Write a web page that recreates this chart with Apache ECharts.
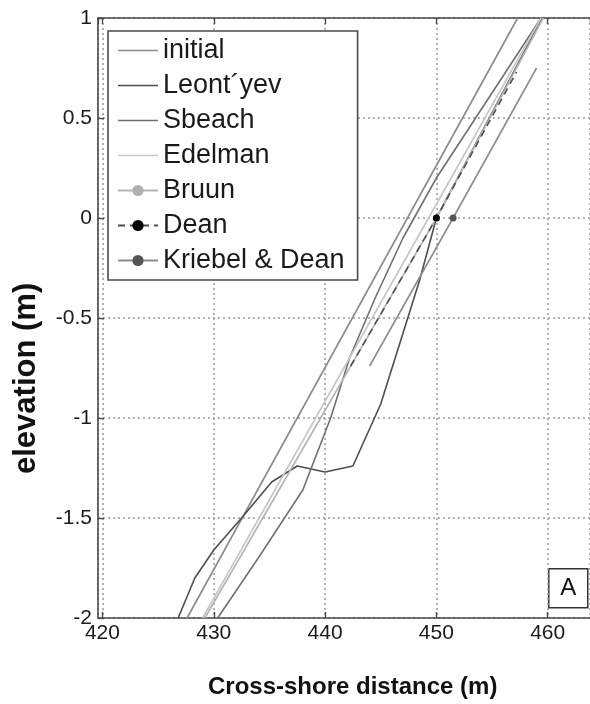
<!DOCTYPE html>
<html><head><meta charset="utf-8">
<script src="https://cdn.jsdelivr.net/npm/echarts@6/dist/echarts.min.js"></script>
<style>html,body{margin:0;padding:0;background:#fff}#c{width:590px;height:704px}</style>
</head><body><div id="c"></div>
<script>
// ---- data (x = cross-shore distance m, y = elevation m) ----
const xTicks = [420, 430, 440, 450, 460];
const yTicks = [-2, -1.5, -1, -0.5, 0, 0.5, 1];
const initial = [[427.6,-2],[457.3,1]];
const leontyev = [[426.8,-2],[428.3,-1.8],[430.0,-1.66],[432.5,-1.5],[434.0,-1.4],[435.2,-1.32],[437.5,-1.24],[440.0,-1.27],[442.5,-1.24],[445.0,-0.93],[448.5,-0.31],[450.0,0],[459.5,1]];
const sbeach = [[430.35,-2],[434.0,-1.7],[438.0,-1.36],[440.5,-1.0],[442.2,-0.7],[444.5,-0.4],[447.0,-0.1],[450.0,0.2],[459.4,1]];
const edelman = [[429.0,-2],[449.3,0],[459.4,1]];
const bruun = [[429.2,-2],[450.0,0],[459.6,1]];
const dean = [[442.3,-0.74],[450.0,0],[457.2,0.73]];
const kriebelDean = [[444.0,-0.74],[451.5,0],[459.0,0.75]];
const markerIndex = {Bruun: 1, Dean: 1, 'Kriebel & Dean': 1};
const legendNames = ['initial', 'Leont\u00b4yev', 'Sbeach', 'Edelman', 'Bruun', 'Dean', 'Kriebel & Dean'];

function withMarker(pts, idx) {
  return pts.map((p, i) => i === idx ? {value: p} : {value: p, symbol: 'none'});
}
function plain(pts){ return pts.map(p => ({value: p, symbol: 'none'})); }

const FONT = '"Liberation Sans", Arial, sans-serif';
const chart = echarts.init(document.getElementById('c'), null, {renderer: 'canvas'});

function lineSeries(name, pts, color, opts) {
  opts = opts || {};
  return {
    name, type: 'line', xAxisIndex: 0, yAxisIndex: 0,
    data: opts.marker != null ? withMarker(pts, opts.marker) : plain(pts),
    symbol: opts.marker != null ? 'circle' : 'none',
    symbolSize: 7,
    showAllSymbol: true,
    lineStyle: {color, width: opts.width || 1.6, type: opts.dash ? [7, 5] : 'solid'},
    itemStyle: {color: opts.markerColor || color, borderWidth: 0},
    z: opts.z || 2,
    silent: true,
    clip: true
  };
}
const seriesList = [
  lineSeries('initial', initial, '#8a8a8a'),
  lineSeries('Leont\u00b4yev', leontyev, '#4e4e4e'),
  lineSeries('Sbeach', sbeach, '#707070'),
  lineSeries('Edelman', edelman, '#c6c6c6'),
  lineSeries('Bruun', bruun, '#b4b4b4', {marker: markerIndex['Bruun'], markerColor: '#b0b0b0'}),
  lineSeries('Kriebel & Dean', kriebelDean, '#8c8c8c', {marker: markerIndex['Kriebel & Dean'], markerColor: '#555555', z: 3}),
  lineSeries('Dean', dean, '#505050', {marker: markerIndex['Dean'], markerColor: '#000000', dash: true, z: 4})
];
// legend: plain line icon for series without markers
const LINE_ICON = 'path://M0,0 H40 V1.6 H0 Z';
const legendData = legendNames.map(n => {
  const s = seriesList.find(x => x.name === n);
  return s.symbol === 'none' ? {name: n, icon: LINE_ICON, itemStyle: {color: s.lineStyle.color}} : {name: n};
});

const axisCol = '#4a4a4a';
const option = {
  animation: false,
  backgroundColor: '#ffffff',
  textStyle: {fontFamily: FONT},
  grid: {left: 98, top: 18, right: 0, bottom: 86, containLabel: false},
  xAxis: [{
    type: 'value', position: 'bottom', min: 419.6, max: 463.8, splitNumber: 5,
    axisLine: {show: true, onZero: false, lineStyle: {color: axisCol, width: 1.6}},
    axisTick: {show: true, inside: true, length: 6, lineStyle: {color: axisCol, width: 1.4}},
    axisLabel: {show: true, color: '#1a1a1a', fontSize: 21, margin: 5, fontFamily: FONT,
      showMinLabel: false, showMaxLabel: false,
      formatter: v => xTicks.includes(Math.round(v*1000)/1000) ? String(v) : ''},
    splitLine: {show: true, lineStyle: {color: '#9a9a9a', width: 1.5, type: [2, 3]}}
  }, {
    type: 'value', position: 'top', min: 419.6, max: 463.8, splitNumber: 5,
    axisLine: {show: true, onZero: false, lineStyle: {color: axisCol, width: 1.6}},
    axisTick: {show: true, inside: true, length: 6, lineStyle: {color: axisCol, width: 1.4}},
    axisLabel: {show: false},
    splitLine: {show: false}
  }],
  yAxis: [{
    type: 'value', min: yTicks[0], max: yTicks[yTicks.length-1], interval: 0.5,
    axisLine: {show: true, onZero: false, lineStyle: {color: axisCol, width: 1.6}},
    axisTick: {show: true, inside: true, length: 6, lineStyle: {color: axisCol, width: 1.4}},
    axisLabel: {show: true, color: '#1a1a1a', fontSize: 21, margin: 6, fontFamily: FONT},
    splitLine: {show: true, lineStyle: {color: '#9a9a9a', width: 1.5, type: [2, 3]}}
  }],
  legend: {
    orient: 'vertical', left: 108, top: 31,
    padding: [6, 13, 6, 9],
    itemWidth: 40, itemHeight: 14, itemGap: 8,
    borderColor: axisCol, borderWidth: 1.6, backgroundColor: '#ffffff',
    textStyle: {fontSize: 27, lineHeight: 26, color: '#1a1a1a', fontFamily: FONT},
    selectedMode: false,
    data: legendData
  },
  graphic: [
    {type: 'text', left: 208, top: 675, z: 10,
      style: {text: 'Cross-shore distance (m)', font: 'bold 24px ' + FONT, fill: '#111'}},
    {type: 'text', x: 11, y: 474, rotation: Math.PI/2, z: 10,
      style: {text: 'elevation (m)', font: 'bold 31px ' + FONT, fill: '#111', textVerticalAlign: 'top'}},
    {type: 'group', left: 548, top: 568, z: 10, children: [
      {type: 'rect', shape: {x: 0, y: 0, width: 39, height: 39},
        style: {fill: '#fff', stroke: '#333', lineWidth: 1.5}},
      {type: 'text', x: 19.5, y: 20,
        style: {text: 'A', font: '24px ' + FONT, fill: '#111', textAlign: 'center', textVerticalAlign: 'middle'}}
    ]}
  ],
  series: seriesList
};
chart.setOption(option);
</script></body></html>
